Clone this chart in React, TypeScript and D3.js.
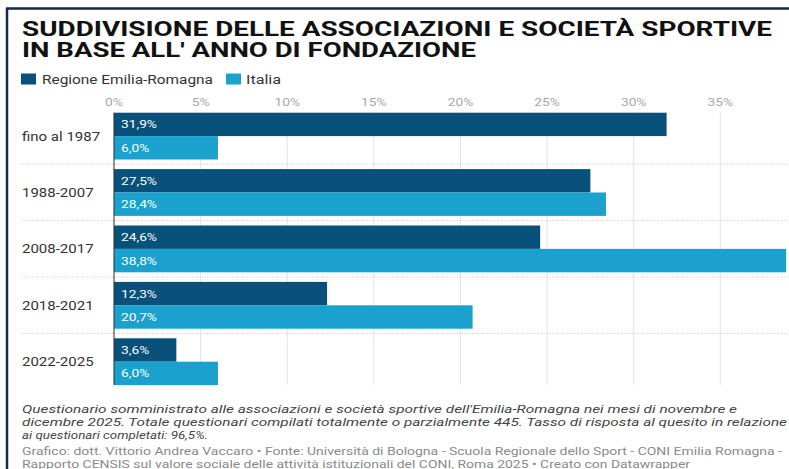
import React from "react";
import * as d3 from "d3";

const categories = ["fino al 1987", "1988-2007", "2008-2017", "2018-2021", "2022-2025"];
const seriesNames = ["Regione Emilia-Romagna", "Italia"];
const emiliaRomagna = [31.9, 27.5, 24.6, 12.3, 3.6];
const italia = [6.0, 28.4, 38.8, 20.7, 6.0];
const ticks = [0, 5, 10, 15, 20, 25, 30, 35];
const titleLines = [
  "SUDDIVISIONE DELLE ASSOCIAZIONI E SOCIETÀ SPORTIVE",
  "IN BASE ALL' ANNO DI FONDAZIONE",
];
const noteLines = [
  "Questionario somministrato alle associazioni e società sportive dell'Emilia-Romagna nei mesi di novembre e",
  "dicembre 2025. Totale questionari compilati totalmente o parzialmente 445. Tasso di risposta al quesito in relazione",
  "ai questionari completati: 96,5%.",
];
const sourceLines = [
  "Grafico: dott. Vittorio Andrea Vaccaro • Fonte: Università di Bologna - Scuola Regionale dello Sport - CONI Emilia Romagna -",
  "Rapporto CENSIS sul valore sociale delle attività istituzionali del CONI, Roma 2025 • Creato con Datawrapper",
];

const W = 789;
const H = 469;
const COLORS = ["#07517a", "#1aa1cd"];
const FONT = "Roboto, 'Liberation Sans', Arial, sans-serif";
const SX = 1.25;

const x = d3.scaleLinear().domain([0, 35]).range([114, 720.3]);
const y0 = d3.scaleBand<string>().domain(categories).range([107.8, 107.8 + 56.4 * 5]);
const y1 = d3.scaleBand<string>().domain(seriesNames).range([4.9, 4.9 + 46.8]).paddingInner(0.0);

const fmt = (v: number) => d3.format(".1f")(v).replace(".", ",") + "%";

function ST({ x: tx, y: ty, children, anchor = "start", ...rest }: any) {
  return (
    <g transform={`translate(${tx},${ty}) scale(${SX},1)`}>
      <text x={0} y={0} textAnchor={anchor} {...rest}>
        {children}
      </text>
    </g>
  );
}

export default function App() {
  const data = [emiliaRomagna, italia];
  const titleWidths = [750, 454];
  const noteWidths = [715, 765, 186];
  const sourceWidths = [760, 668];
  const plotTop = y0.range()[0] + 4.9;
  const plotBottom = y0.range()[1] - 4.9;
  return (
    <svg
      width={W}
      height={H}
      style={{ position: "absolute", left: 0, top: 0, background: "#fff", fontFamily: FONT }}
    >
      <rect x={0} y={0} width={W} height={H} fill="#fff" />
      {/* frame */}
      <line x1={6} x2={W} y1={8.5} y2={8.5} stroke="#15294a" strokeWidth={2.5} />
      <line x1={7} x2={7} y1={8} y2={H} stroke="#15294a" strokeWidth={2.5} />

      {/* title */}
      {titleLines.map((t, i) => (
        <text
          key={t}
          x={22}
          y={36 + i * 21}
          fontSize={19.5}
          fontWeight={700}
          fill="#111"
          textLength={titleWidths[i]}
          lengthAdjust="spacingAndGlyphs"
        >
          {t}
        </text>
      ))}

      {/* legend */}
      <rect x={21} y={73.5} width={15} height={11} fill={COLORS[0]} />
      <text x={42} y={83.5} fontSize={12} fill="#333" textLength={171} lengthAdjust="spacingAndGlyphs">
        {seriesNames[0]}
      </text>
      <rect x={226} y={73.5} width={15} height={11} fill={COLORS[1]} />
      <text x={246} y={83.5} fontSize={12} fill="#333" textLength={35} lengthAdjust="spacingAndGlyphs">
        {seriesNames[1]}
      </text>

      {/* gridlines */}
      {ticks.map((t) => (
        <line
          key={"g" + t}
          x1={x(t)}
          x2={x(t)}
          y1={plotTop}
          y2={plotBottom}
          stroke="#e3e3e3"
          strokeWidth={1}
        />
      ))}
      {ticks.map((t) => (
        <ST key={"t" + t} x={x(t)} y={106} anchor="middle" fontSize={11} fill="#a8a8a8">
          {t + "%"}
        </ST>
      ))}

      {/* separators */}
      {categories.slice(1).map((c) => (
        <line
          key={"s" + c}
          x1={22}
          x2={W}
          y1={y0(c)!}
          y2={y0(c)!}
          stroke="#c8c8c8"
          strokeWidth={1}
          strokeDasharray="1,1.5"
        />
      ))}

      {/* bars */}
      {categories.map((c, ci) => (
        <g key={c}>
          <ST x={22} y={y0(c)! + y0.bandwidth() / 2 + 4.5} fontSize={12} fill="#333">
            {c}
          </ST>
          {seriesNames.map((s, si) => {
            const v = data[si][ci];
            const by = y0(c)! + y1(s)!;
            const bh = y1.bandwidth();
            return (
              <g key={s}>
                <rect x={x(0)} y={by} width={x(v) - x(0)} height={bh} fill={COLORS[si]} />
                <ST x={x(0) + 7} y={by + bh / 2 + 4} fontSize={11} fill="#fff">
                  {fmt(v)}
                </ST>
              </g>
            );
          })}
        </g>
      ))}
      <line x1={x(0)} x2={x(0)} y1={plotTop} y2={plotBottom} stroke="#333" strokeWidth={1} />

      {/* notes */}
      {noteLines.map((t, i) => (
        <text
          key={t}
          x={22}
          y={413 + i * 13}
          fontSize={11.5}
          fontStyle="italic"
          fill="#444"
          textLength={noteWidths[i]}
          lengthAdjust="spacingAndGlyphs"
        >
          {t}
        </text>
      ))}
      {sourceLines.map((t, i) => (
        <text
          key={t}
          x={22}
          y={455 + i * 12.5}
          fontSize={11.5}
          fill="#8a8a8a"
          textLength={sourceWidths[i]}
          lengthAdjust="spacingAndGlyphs"
        >
          {t}
        </text>
      ))}
    </svg>
  );
}
